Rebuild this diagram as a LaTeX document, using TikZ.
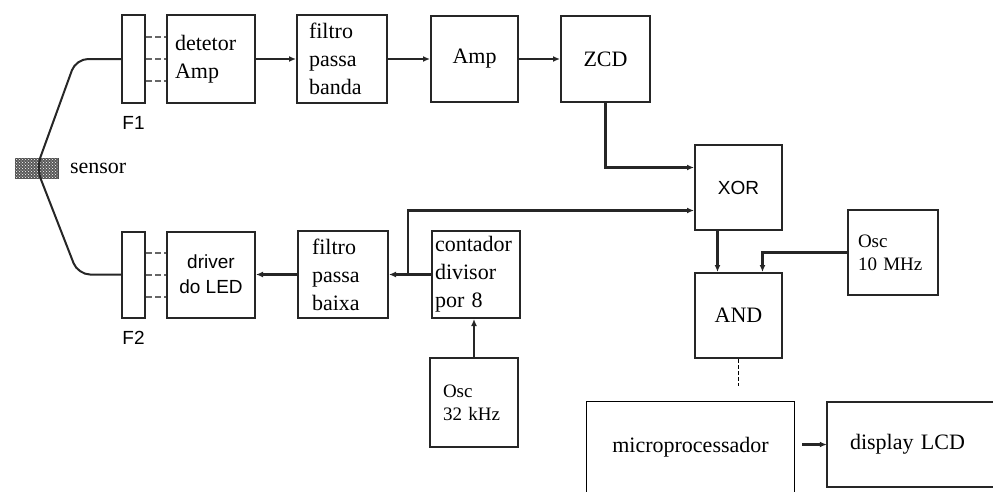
\documentclass[tikz,border=0pt]{standalone}
\usepackage{fontspec}
\setmainfont{Liberation Serif}
\setsansfont{Liberation Sans}
\usetikzlibrary{arrows.meta,positioning,patterns,calc}

\begin{document}
\begin{tikzpicture}[x=1pt,y=-1pt,>={Latex[length=7pt,width=6pt]},
font=\fontsize{22}{28}\selectfont,
box/.style={draw=black!85,line width=2pt,minimum width=88pt,minimum height=86pt,inner sep=0pt,align=center},
lbox/.style={box,align=left,inner ysep=0pt},
bar/.style={draw=black!85,line width=2pt,minimum width=23pt,minimum height=86pt,inner sep=0pt},
tag/.style={font=\sffamily\fontsize{19}{25}\selectfont},
small/.style={font=\fontsize{19}{23}\selectfont},
sig/.style={->,line width=2.2pt,black!85},
fib/.style={line width=2pt,black!60,dash pattern=on 6pt off 3pt},
fiber/.style={line width=2pt,black!85,rounded corners=12pt}]
\useasboundingbox (0,0) rectangle (993,491);
\clip (0,0) rectangle (993,491);

% optical part
\node[draw=black!70,line width=1pt,fill=black!65,minimum width=43pt,minimum height=20pt,
  postaction={pattern=crosshatch dots,pattern color=white!80}] (sens) at (36.5,168) {};
\node[right=8pt of sens] (senslbl) {sensor};
\node[bar,minimum height=88pt] (F1) at (133.5,59) {};
\node[tag,below=9pt of F1] (F1lbl) {F1};
\node[bar] (F2) at (133.5,274.5) {};
\node[tag,below=9pt of F2] (F2lbl) {F2};
\coordinate (kink1) at (76,59);
\coordinate (kink2) at (78,274.5);
\draw[fiber] (F1.west) -- (kink1) -- (sens.center) -- (kink2) -- (F2.west);

% receiving chain
\node[lbox,text width=72pt,inner xsep=8pt,minimum height=88pt] (det) at (211,59) {detetor\\Amp};
\node[lbox,text width=66pt,inner xsep=12pt,minimum height=88pt,right=40pt of det] (fpb) {filtro\\passa\\banda};
\node[box,minimum width=87pt,right=42pt of fpb] (amp) {Amp};
\node[box,minimum width=89pt,right=41pt of amp] (zcd) {ZCD};

% transmitting chain
\node[box,tag] (drv) at (211,274.5) {driver\\do LED};
\node[lbox,text width=62pt,inner xsep=14pt,minimum height=87pt,right=41pt of drv] (fpx) {filtro\\passa\\baixa};
\node[lbox,text width=82pt,inner xsep=2pt,minimum height=87pt,right=42pt of fpx] (cnt) {contador\\divisor\\por 8};
\node[lbox,small,text width=62pt,inner xsep=13pt,minimum height=89pt] (osc32) at (474,402.5) {Osc\\32 kHz};

% phase detection
\node[box,tag,minimum width=87pt,minimum height=85pt] (xor) at (738.5,187.5) {XOR};
\node[box,minimum width=87pt,minimum height=85pt,below=41pt of xor] (and) {AND};
\node[lbox,small,text width=70pt,inner xsep=10pt,minimum height=85pt] (osc10) at (893,252.5) {Osc\\10 MHz};
\node[minimum width=207pt,minimum height=90pt] (micro) at (690.5,447) {microprocessador};
\draw[line width=1pt] (micro.south west) -- (micro.north west) -- (micro.north east) -- (micro.south east);
\node[align=left,text width=160pt,inner xsep=23pt,minimum height=85pt] (lcd) at (930,444.5) {display LCD};
\draw[draw=black!85,line width=2pt] (lcd.north east) -- (lcd.north west) -- (lcd.south west) -- (lcd.south east);

\foreach \dy in {22,0,-22} {
  \draw[fib] ([yshift=\dy pt]F1.east) -- ([yshift=\dy pt]det.west);
  \draw[fib] ([yshift=\dy pt]F2.east) -- ([yshift=\dy pt]drv.west);
}
\draw[sig] (det) -- (fpb);
\draw[sig] (fpb) -- (amp);
\draw[sig] (amp) -- (zcd);
\draw[sig] (zcd.south) |- ([yshift=20pt]xor.west);
\draw[sig] (cnt) -- (fpx);
\draw[sig] (fpx) -- (drv);
\coordinate (tap) at ($(fpx.east)!0.45!(cnt.west)$);
\draw[sig] (tap) |- ([yshift=-23pt]xor.west);
\draw[sig] (osc32.north) -- (osc32.north |- cnt.south);
\draw[sig] ([xshift=-21pt]xor.south) -- ([xshift=-21pt]and.north);
\draw[sig] (osc10.west) -| ([xshift=24pt]and.north);
\coordinate (andout) at ([yshift=-27pt]and.south);
\draw[line width=0.8pt,dash pattern=on 4pt off 2pt] (and.south) -- (andout);
\draw[sig,shorten <=8pt] (lcd.west -| micro.east) -- (lcd.west);
\end{tikzpicture}
\end{document}
